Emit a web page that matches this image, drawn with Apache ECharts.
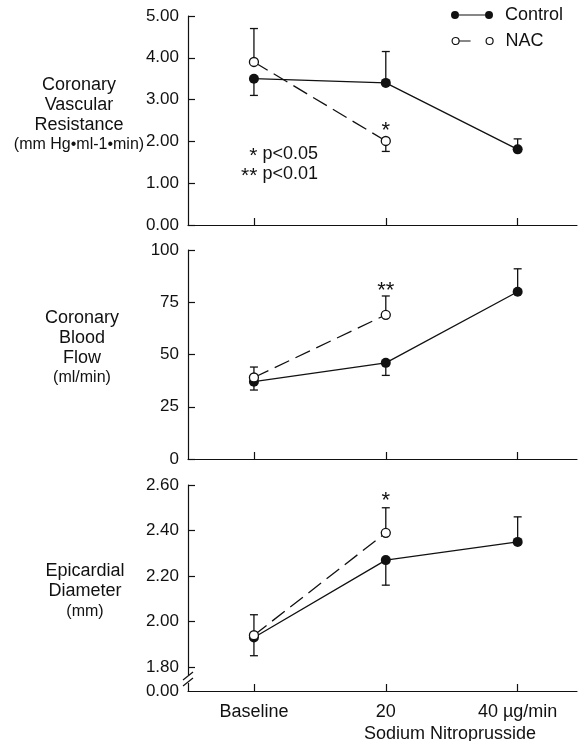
<!DOCTYPE html>
<html><head><meta charset="utf-8">
<script src="https://cdn.jsdelivr.net/npm/echarts@6/dist/echarts.min.js"></script>
<style>html,body{margin:0;padding:0;background:#fff}#c{width:579px;height:741px}</style>
</head><body><div id="c"></div>
<script>
// ---------------- data ----------------
const categories = ['Baseline', '20', '40 µg/min'];
const xAxisTitle = 'Sodium Nitroprusside';

// Coronary Vascular Resistance
const cvrControl = [3.50, 3.40, 1.81];
const cvrControlErr = [3.10, 4.15, 2.06];
const cvrNac = [3.90, 2.01];
const cvrNacErr = [4.70, 1.76];
const cvrTicks = [0, 1, 2, 3, 4, 5];

// Coronary Blood Flow
const cbfControl = [37, 46, 80];
const cbfControlErr = [33, 40, 91];
const cbfNac = [39, 69];
const cbfNacErr = [44, 78];
const cbfTicks = [0, 25, 50, 75, 100];

// Epicardial Diameter
const diaControl = [1.93, 2.27, 2.35];
const diaControlErr = [1.85, 2.16, 2.46];
const diaNac = [1.94, 2.39];
const diaNacErr = [2.03, 2.50];
const diaTicks = [1.80, 2.00, 2.20, 2.40, 2.60];
const diaBreakFloor = 1.695;   // where the "0.00" sits below the axis break
const diaFloorLabel = '0.00';

// significance marks [category index, value, text]
const cvrSig = [[1, 2.25, '*']];
const cbfSig = [[1, 80.5, '**']];
const diaSig = [[1, 2.53, '*']];

const sigLegend = [['*', 'p<0.05'], ['**', 'p<0.01']];
const panelTitles = [
  ['Coronary', 'Vascular', 'Resistance', '(mm Hg\u2022ml-1\u2022min)'],
  ['Coronary', 'Blood', 'Flow', '(ml/min)'],
  ['Epicardial', 'Diameter', '(mm)']
];

// ---------------- chart ----------------
const FONT = '"Liberation Sans", Arial, Helvetica, sans-serif';
const INK = '#111';
const xMin = -0.5, xMax = 2.45;

const grids = [
  {left: 188, top: 16, width: 389, height: 209},
  {left: 188, top: 250, width: 389, height: 209},
  {left: 188, top: 485, width: 389, height: 206}
];

function xAxisFor(i, showLabels) {
  return {
    type: 'value', gridIndex: i, min: xMin, max: xMax,
    splitLine: {show: false},
    axisLine: {show: true, onZero: false, lineStyle: {color: INK, width: 1.2}},
    axisTick: {show: true, inside: true, length: 7, customValues: categories.map((c, k) => k), lineStyle: {color: INK, width: 1.2}},
    axisLabel: {show: showLabels, customValues: categories.map((c, k) => k), margin: 12,
      formatter: v => categories[Math.round(v)], color: INK, fontSize: 18, fontFamily: FONT}
  };
}

function yAxisBase(i) {
  return {
    type: 'value', gridIndex: i,
    splitLine: {show: false},
    axisLine: {show: true, onZero: false, lineStyle: {color: INK, width: 1.2}},
    axisTick: {show: true, inside: true, length: 7, lineStyle: {color: INK, width: 1.2}},
    axisLabel: {color: INK, fontSize: 17, fontFamily: FONT, margin: 9}
  };
}

const y0 = yAxisBase(0);
Object.assign(y0, {min: cvrTicks[0], max: cvrTicks[cvrTicks.length - 1], interval: 1});
y0.axisLabel.formatter = v => v.toFixed(2);

const y1 = yAxisBase(1);
Object.assign(y1, {min: cbfTicks[0], max: cbfTicks[cbfTicks.length - 1], interval: 25});

const y2 = yAxisBase(2);
Object.assign(y2, {min: diaBreakFloor, max: diaTicks[diaTicks.length - 1]});
y2.axisTick.customValues = diaTicks;
y2.axisLabel.customValues = [diaBreakFloor].concat(diaTicks);
y2.axisLabel.formatter = v => (v < diaTicks[0] - 0.01 ? diaFloorLabel : v.toFixed(2));

const toXY = arr => arr.map((v, k) => [k, v]);
const toErr = (vals, errs) => vals.map((v, k) => [k, v, errs[k]]);

function lineSeries(name, vals, gi, open) {
  return {
    name, type: 'line', xAxisIndex: gi, yAxisIndex: gi, z: 5,
    data: toXY(vals), symbol: 'circle', symbolSize: open ? 9 : 10,
    itemStyle: open ? {color: '#fff', borderColor: INK, borderWidth: 1.3} : {color: INK},
    lineStyle: {color: INK, width: 1.3, type: open ? [16, 7] : 'solid'},
    emphasis: {disabled: true}, animation: false
  };
}

function errSeries(name, vals, errs, gi) {
  return {
    name, type: 'custom', xAxisIndex: gi, yAxisIndex: gi, z: 3, animation: false, silent: true,
    data: toErr(vals, errs),
    renderItem: (p, api) => {
      const a = api.coord([api.value(0), api.value(1)]);
      const b = api.coord([api.value(0), api.value(2)]);
      return {type: 'group', children: [
        {type: 'line', shape: {x1: a[0], y1: a[1], x2: b[0], y2: b[1]}, style: {stroke: INK, lineWidth: 1.3}},
        {type: 'line', shape: {x1: b[0] - 4, y1: b[1], x2: b[0] + 4, y2: b[1]}, style: {stroke: INK, lineWidth: 1.3}}
      ]};
    }
  };
}

function sigSeries(marks, gi) {
  return {
    type: 'custom', xAxisIndex: gi, yAxisIndex: gi, z: 6, animation: false, silent: true,
    data: marks.map(m => [m[0], m[1]]),
    renderItem: (p, api) => {
      const c = api.coord([api.value(0), api.value(1)]);
      return {type: 'text', x: c[0], y: c[1], style: {text: marks[p.dataIndex][2], fill: INK,
        font: '22px ' + FONT, align: 'center', verticalAlign: 'middle'}};
    }
  };
}

const breakSeries = {
  type: 'custom', xAxisIndex: 2, yAxisIndex: 2, z: 6, animation: false, silent: true, clip: false,
  data: [[xMin, (diaBreakFloor + diaTicks[0]) / 2]],
  renderItem: (p, api) => {
    const c = api.coord([api.value(0), api.value(1)]);
    return {type: 'group', children: [
      {type: 'rect', shape: {x: c[0] - 2, y: c[1] - 4, width: 4, height: 8}, style: {fill: '#fff'}},
      {type: 'line', shape: {x1: c[0] - 5, y1: c[1] + 1, x2: c[0] + 5, y2: c[1] - 7}, style: {stroke: INK, lineWidth: 1.2}},
      {type: 'line', shape: {x1: c[0] - 5, y1: c[1] + 7, x2: c[0] + 5, y2: c[1] - 1}, style: {stroke: INK, lineWidth: 1.2}}
    ]};
  }
};

// legend icons (filled / open circles joined by a line)
const iconControl = 'path://M0,4A4,4 0 1,1 8,4A4,4 0 1,1 0,4Z M8,3.4L34,3.4L34,4.6L8,4.6Z M34,4A4,4 0 1,1 42,4A4,4 0 1,1 34,4Z';
const iconNac = 'path://M0.5,4A3.5,3.5 0 1,1 7.5,4A3.5,3.5 0 1,1 0.5,4Z M8,4L19,4 M34.5,4A3.5,3.5 0 1,1 41.5,4A3.5,3.5 0 1,1 34.5,4Z M0,0L0,0 M42,8L42,8';

const legendCommon = {
  orient: 'horizontal', padding: 0, itemWidth: 42, itemHeight: 8, selectedMode: false,
  textStyle: {fontSize: 18, fontFamily: FONT, color: INK, padding: [0, 0, 0, 7]}
};

const graphics = [];
const titleBlocks = [
  {x: 79, ys: [85, 105, 125, 145]},
  {x: 82, ys: [318, 338, 358, 378]},
  {x: 85, ys: [571, 591, 612]}
];
panelTitles.forEach((lines, pi) => {
  lines.forEach((t, li) => {
    const isUnit = t.startsWith('(');
    graphics.push({type: 'text', x: titleBlocks[pi].x, y: titleBlocks[pi].ys[li],
      style: {text: t, fill: INK, font: (isUnit ? '16px ' : '18px ') + FONT, align: 'center', verticalAlign: 'middle'}});
  });
});
sigLegend.forEach((t, i) => {
  graphics.push({type: 'text', x: 318, y: 154 + i * 20,
    style: {text: '{s|' + t[0] + '} ' + t[1], fill: INK, font: '18px ' + FONT, align: 'right', verticalAlign: 'middle',
      rich: {s: {fontSize: 21, fontFamily: FONT, fill: INK, padding: [5, 0, 0, 0]}}}});
});
graphics.push({type: 'text', x: 450, y: 734,
  style: {text: xAxisTitle, fill: INK, font: '18px ' + FONT, align: 'center', verticalAlign: 'middle'}});

const option = {
  backgroundColor: '#fff',
  animation: false,
  grid: grids,
  xAxis: [xAxisFor(0, false), xAxisFor(1, false), xAxisFor(2, true)],
  yAxis: [y0, y1, y2],
  legend: [
    Object.assign({left: 451, top: 6, data: [{name: 'Control', icon: iconControl,
      itemStyle: {color: INK, borderWidth: 0}}]}, legendCommon),
    Object.assign({left: 451, top: 32, data: [{name: 'NAC', icon: iconNac,
      itemStyle: {color: '#fff', borderColor: INK, borderWidth: 1.2}}]}, legendCommon)
  ],
  graphic: graphics,
  series: [
    errSeries('Control', cvrControl, cvrControlErr, 0),
    errSeries('NAC', cvrNac, cvrNacErr, 0),
    lineSeries('Control', cvrControl, 0, false),
    lineSeries('NAC', cvrNac, 0, true),
    sigSeries(cvrSig, 0),

    errSeries('Control', cbfControl, cbfControlErr, 1),
    errSeries('NAC', cbfNac, cbfNacErr, 1),
    lineSeries('Control', cbfControl, 1, false),
    lineSeries('NAC', cbfNac, 1, true),
    sigSeries(cbfSig, 1),

    errSeries('Control', diaControl, diaControlErr, 2),
    errSeries('NAC', diaNac, diaNacErr, 2),
    lineSeries('Control', diaControl, 2, false),
    lineSeries('NAC', diaNac, 2, true),
    sigSeries(diaSig, 2),
    breakSeries
  ]
};

const chart = echarts.init(document.getElementById('c'), null, {renderer: 'canvas'});
chart.setOption(option);
</script>
</body></html>
